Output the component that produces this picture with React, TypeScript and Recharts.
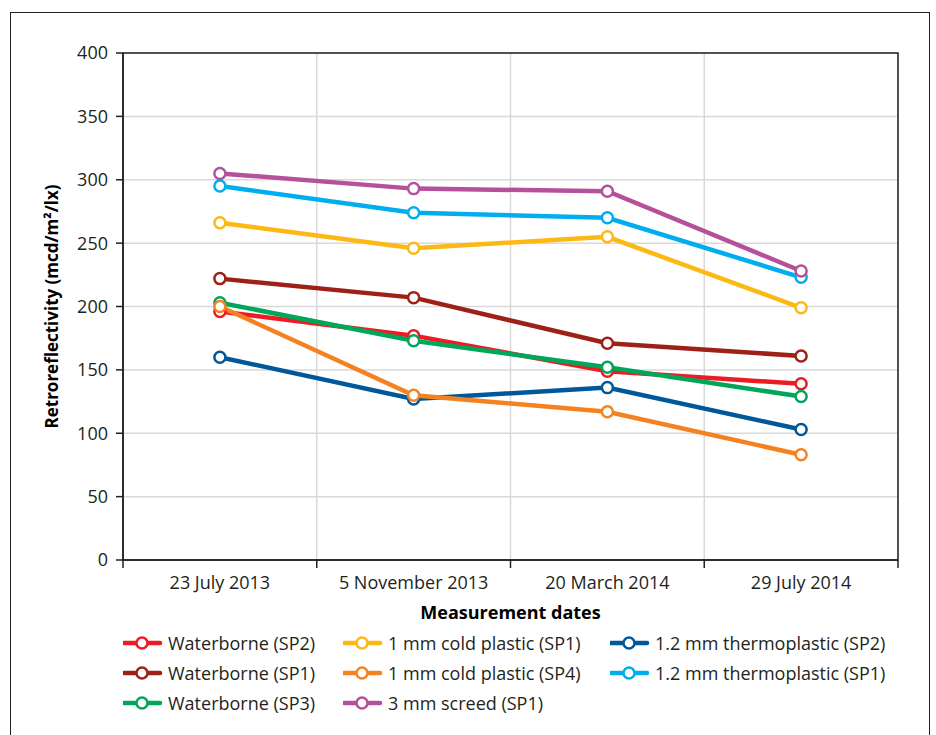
import React from 'react';
import { LineChart, Line, XAxis, YAxis, CartesianGrid, Legend, ReferenceArea } from 'recharts';

const dates = ['23 July 2013', '5 November 2013', '20 March 2014', '29 July 2014'];

const waterborneSP2 = [196, 177, 149, 139];
const waterborneSP1 = [222, 207, 171, 161];
const waterborneSP3 = [203, 173, 152, 129];
const coldPlasticSP1 = [266, 246, 255, 199];
const coldPlasticSP4 = [200, 130, 117, 83];
const thermoplasticSP2 = [160, 127, 136, 103];
const thermoplasticSP1 = [295, 274, 270, 223];
const screedSP1 = [305, 293, 291, 228];

const yTicks = [0, 50, 100, 150, 200, 250, 300, 350, 400];
const boundaryTicks = [0, 1, 2, 3, 4];

// drawing order (later = on top)
const series = [
  { key: 'ws2', name: 'Waterborne (SP2)', color: '#ed1c24', values: waterborneSP2 },
  { key: 'ws1', name: 'Waterborne (SP1)', color: '#9e2117', values: waterborneSP1 },
  { key: 'ws3', name: 'Waterborne (SP3)', color: '#00a65a', values: waterborneSP3 },
  { key: 'th2', name: '1.2 mm thermoplastic (SP2)', color: '#00589a', values: thermoplasticSP2 },
  { key: 'cp1', name: '1 mm cold plastic (SP1)', color: '#fdb913', values: coldPlasticSP1 },
  { key: 'cp4', name: '1 mm cold plastic (SP4)', color: '#f58220', values: coldPlasticSP4 },
  { key: 'th1', name: '1.2 mm thermoplastic (SP1)', color: '#00aeef', values: thermoplasticSP1 },
  { key: 'scr', name: '3 mm screed (SP1)', color: '#b5519b', values: screedSP1 },
];

// legend reads row by row in three columns
const legendOrder = ['ws2', 'cp1', 'th2', 'ws1', 'cp4', 'th1', 'ws3', 'scr'];

const data = dates.map((date, i) => {
  const row: Record<string, string | number> = { date, pos: i + 0.5 };
  series.forEach((s) => {
    row[s.key] = s.values[i];
  });
  return row;
});

const FONT = '"Open Sans", "Noto Sans", sans-serif';
const TEXT = '#231f20';

const LegendContent = () => (
  <div
    style={{
      display: 'grid',
      gridTemplateColumns: '220px 267px auto',
      gridAutoRows: '30px',
      fontFamily: FONT,
      fontSize: 18,
      color: TEXT,
    }}
  >
    {legendOrder.map((k) => {
      const s = series.find((x) => x.key === k)!;
      return (
        <div key={k} style={{ display: 'flex', alignItems: 'center', whiteSpace: 'nowrap' }}>
          <svg width={45} height={16} style={{ flex: 'none' }}>
            <line x1={1} y1={8} x2={37} y2={8} stroke={s.color} strokeWidth={4.5} strokeLinecap="round" />
            <circle cx={19} cy={8} r={5.5} fill="#fff" stroke={s.color} strokeWidth={2.5} />
          </svg>
          <span>{s.name}</span>
        </div>
      );
    })}
  </div>
);

export default function App() {
  return (
    <div style={{ position: 'absolute', left: 0, top: 0, width: 936, height: 735, background: '#fff', overflow: 'hidden' }}>
      <div
        style={{
          position: 'absolute',
          left: 10,
          top: 12,
          width: 920,
          height: 760,
          border: '1.5px solid #222',
          boxSizing: 'border-box',
        }}
      />
      <div style={{ position: 'absolute', left: 0, top: 0 }}>
        <LineChart width={936} height={735} data={data} margin={{ top: 53, right: 38, bottom: 109, left: 63 }}>
          <CartesianGrid stroke="#d9d9d9" strokeWidth={1.5} />
          <XAxis
            dataKey="pos"
            type="number"
            domain={[0, 4]}
            ticks={boundaryTicks}
            allowDataOverflow
            height={1}
            tick={{ fontSize: 1, fill: 'none' }}
            tickFormatter={() => ''}
            tickSize={8}
            axisLine={{ stroke: '#222', strokeWidth: 1.5 }}
            tickLine={{ stroke: '#222', strokeWidth: 1.5 }}
          />
          <XAxis
            xAxisId="cat"
            dataKey="date"
            scale="band"
            height={65}
            axisLine={false}
            tickLine={false}
            tickSize={0}
            tickMargin={15}
            tick={{ fill: TEXT, fontSize: 18, fontFamily: FONT }}
            label={{
              value: 'Measurement dates',
              position: 'insideBottom',
              offset: 7,
              fill: '#000',
              fontSize: 18,
              fontWeight: 700,
              fontFamily: FONT,
            }}
          />
          <YAxis
            domain={[0, 400]}
            ticks={yTicks}
            width={60}
            tickSize={7}
            tickMargin={8}
            axisLine={{ stroke: '#222', strokeWidth: 1.5 }}
            tickLine={{ stroke: '#222', strokeWidth: 1.5 }}
            tick={{ fill: TEXT, fontSize: 18, fontFamily: FONT }}
            label={{
              value: 'Retroreflectivity (mcd/m²/lx)',
              angle: -90,
              position: 'insideLeft',
              offset: -11,
              fill: '#000',
              fontSize: 17,
              fontWeight: 700,
              fontFamily: FONT,
              style: { textAnchor: 'middle' },
            }}
          />
          <ReferenceArea
            x1={0}
            x2={4}
            y1={0}
            y2={400}
            fill="none"
            fillOpacity={0}
            stroke="#222"
            strokeWidth={1.5}
          />
          {series.map((s) => (
            <Line
              key={s.key}
              xAxisId="cat"
              dataKey={s.key}
              name={s.name}
              stroke={s.color}
              strokeWidth={4.5}
              dot={{ r: 5.5, fill: '#fff', stroke: s.color, strokeWidth: 2.5 }}
              activeDot={false}
              isAnimationActive={false}
            />
          ))}
          <Legend
            layout="horizontal"
            verticalAlign="middle"
            align="center"
            content={<LegendContent />}
            wrapperStyle={{ position: 'absolute', top: 628, left: 123, width: 800 }}
          />
        </LineChart>
      </div>
    </div>
  );
}
